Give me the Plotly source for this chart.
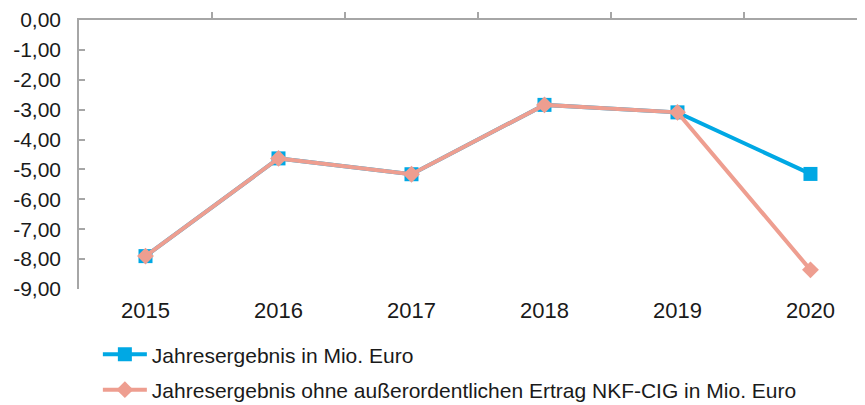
import plotly.graph_objects as go

years = ["2015", "2016", "2017", "2018", "2019", "2020"]
jahresergebnis = [-7.90, -4.63, -5.16, -2.84, -3.09, -5.15]
ohne_nkf_cig = [-7.90, -4.63, -5.16, -2.84, -3.09, -8.36]
y_ticks = [0, -1, -2, -3, -4, -5, -6, -7, -8, -9]
y_tick_labels = ["0,00", "-1,00", "-2,00", "-3,00", "-4,00", "-5,00",
                 "-6,00", "-7,00", "-8,00", "-9,00"]
name_1 = "Jahresergebnis in Mio. Euro"
name_2 = "Jahresergebnis ohne außerordentlichen Ertrag NKF-CIG in Mio. Euro"

BLUE = "#00A8E4"
PINK = "#EE9E90"
GRAY = "#A6A6A6"
FONT = "Liberation Sans, Arial, sans-serif"

fig = go.Figure()
fig.add_trace(go.Scatter(
    x=years, y=jahresergebnis, name=name_1, mode="lines+markers",
    line=dict(color=BLUE, width=4),
    marker=dict(symbol="square", size=14, color=BLUE),
    legendgroup="a",
))
fig.add_trace(go.Scatter(
    x=years, y=ohne_nkf_cig, name=name_2, mode="lines+markers",
    line=dict(color=PINK, width=4),
    marker=dict(symbol="diamond", size=13, color=PINK),
    legendgroup="b",
))
# helper trace so the top axis (boundary ticks) is drawn
fig.add_trace(go.Scatter(
    x=[None], y=[None], xaxis="x2", showlegend=False, hoverinfo="skip",
))

x_range = [-0.5, 5.41]
fig.update_layout(
    width=857, height=397,
    margin=dict(l=71, r=0, t=12, b=116, autoexpand=False),
    paper_bgcolor="white", plot_bgcolor="white",
    font=dict(family=FONT, size=21, color="#1a1a1a"),
    showlegend=True,
    legend=dict(
        x=0.024, y=-0.168, xanchor="left", yanchor="top",
        orientation="v", tracegroupgap=5, itemwidth=44,
        font=dict(size=21, family=FONT, color="#1a1a1a"),
        bgcolor="rgba(0,0,0,0)",
    ),
    xaxis=dict(
        type="category", range=x_range, showline=False, showgrid=False,
        zeroline=False, ticks="", tickfont=dict(size=22),
        ticklabelstandoff=6, automargin=False,
    ),
    xaxis2=dict(
        overlaying="x", side="top", anchor="y", range=x_range,
        type="linear", showgrid=False, zeroline=False,
        showline=True, linecolor=GRAY, linewidth=1.5,
        tickmode="array", tickvals=[0.5, 1.5, 2.5, 3.5, 4.5],
        ticks="outside", ticklen=6, tickcolor=GRAY, tickwidth=1.5,
        showticklabels=False, automargin=False,
    ),
    yaxis=dict(
        range=[-9, 0], showgrid=False, zeroline=False,
        showline=True, linecolor=GRAY, linewidth=1.5,
        tickmode="array", tickvals=y_ticks, ticktext=y_tick_labels,
        ticks="inside", ticklen=6, tickcolor=GRAY, tickwidth=1.5,
        tickfont=dict(size=21), ticklabelstandoff=12, automargin=False,
    ),
)

fig.write_html("out.html")
